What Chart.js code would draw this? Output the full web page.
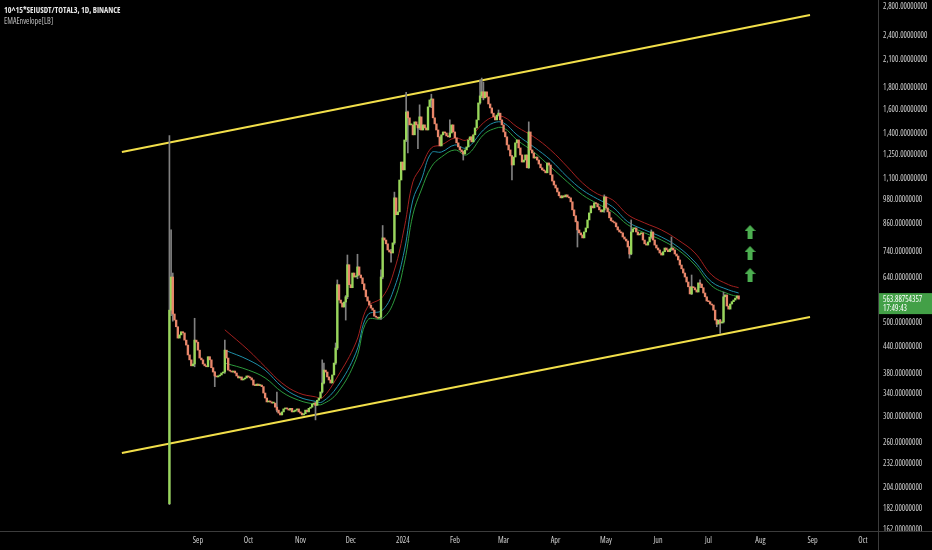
<!DOCTYPE html>
<html lang="en">
<head>
<meta charset="UTF-8">
<title>10^15*SEIUSDT/TOTAL3, 1D</title>
<script src="https://cdn.jsdelivr.net/npm/chart.js@4"></script>
<style>
  html, body { margin: 0; padding: 0; background: #000; }
  #chart { display: block; }
</style>
</head>
<body>
<canvas id="chart" width="932" height="550"></canvas>
<script>
// daily candles, day 0 = 1 Sep 2023, first candle 15 Aug 2023
const firstDay = -17;
const firstOpen = 185;
const closes = [
  531, 636, 520, 503, 485, 456, 464, 472, 469, 451, 439, 416, 405, 392, 396, 451, 446,
  427, 409, 405, 396, 392, 390, 412, 405, 388, 379, 371, 369, 371, 373, 377, 379, 427, 409,
  383, 381, 379, 381, 377, 371, 367, 369, 363, 365, 367, 371,
  369, 367, 363, 353, 352, 355, 352, 353, 350, 338, 329, 322, 323, 322, 320, 320, 313, 308,
  303, 300, 305, 310, 311, 310, 308, 311, 305, 306, 308, 310, 305,
  303, 300, 302, 308, 305, 311, 313, 318, 320, 316, 325, 329, 340, 357, 383, 379, 369, 363,
  357, 373, 398, 432, 610, 561, 552, 540, 555, 571, 680, 610,
  600, 650, 636, 640, 672, 643, 633, 613, 593, 571, 558, 546, 537, 531, 514, 511, 508, 511,
  636, 787, 778, 762, 737, 729, 725, 766, 979, 893, 907, 1079, 1190,
  1140, 1342, 1563, 1514, 1457, 1457, 1380, 1481, 1457, 1433, 1522, 1417, 1457, 1433, 1417,
  1607, 1669, 1678, 1514, 1465, 1417, 1365, 1299, 1380, 1402, 1394, 1372, 1365, 1394, 1457, 1402,
  1357, 1321, 1292, 1271, 1257, 1243, 1271, 1292, 1342, 1365, 1328, 1380, 1433, 1497, 1642,
  1706, 1744, 1688, 1744, 1697, 1633, 1598, 1553, 1522, 1497, 1537, 1553, 1497, 1457,
  1402, 1365, 1306, 1271, 1230, 1171, 1223, 1321, 1342, 1285, 1237, 1190, 1203, 1237, 1153,
  1402, 1271, 1250, 1216, 1223, 1203, 1177, 1153, 1140, 1134, 1122, 1184, 1171, 1110, 1073, 1050,
  1033, 1011, 990, 979, 990, 984, 995, 984, 979, 958, 917, 888, 859, 822, 809, 800, 787, 813,
  831, 868, 902, 937, 927, 953, 948, 932, 917, 907, 917, 984,
  927, 907, 878, 864, 859, 854, 836, 822, 813, 809, 791, 782, 774, 749, 721, 813, 827, 831,
  813, 800, 805, 809, 778, 762, 757, 770, 791, 813, 778, 757, 745,
  737, 725, 717, 730, 745, 737, 730, 741, 745, 737, 721, 713, 698, 679, 665, 650, 636, 619,
  603, 580, 603, 600, 593, 586, 616, 612, 600, 583, 571, 558,
  556, 549, 546, 531, 503, 492, 503, 495, 498, 571, 577, 543, 534, 549, 556, 561, 567, 574, 563.88754357
];

// visible wicks
const wickDays  = [-17, -16, -15, -2, 10, 16, 47, 70, 74, 75, 82, 83, 88, 89, 95, 109, 110, 115, 117, 124,
                   125, 131, 132, 139, 150, 158, 168, 169, 170, 179, 187, 197, 226, 242, 257, 258, 270, 282, 294, 299,
                   309, 311, 313];
const wickLows  = [184, 515, 500, 390, 350, 376, 305, 292, 338, 355, 395, 428, 503, 565, 630, 505, 630, 690, 760, 1330,
                   1250, 1280, 1420, 1600, 1360, 1203, 1630, 1690, 1670, 1530, 1079, 1150, 749, 905, 705, 718, 785, 735, 578, 600,
                   485, 468, 495];
const wickHighs = [1375, 822, 650, 508, 380, 451, 340, 322, 405, 398, 444, 626, 575, 717, 720, 661, 842, 740, 1010, 1740,
                   1570, 1460, 1625, 1722, 1497, 1262, 1861, 1880, 1840, 1580, 1235, 1481, 862, 995, 752, 868, 822, 791, 643, 626,
                   505, 505, 586];

// EMA envelope
const emaDays  = [16, 30, 40, 50, 60, 70, 74, 83, 94, 101, 110, 117, 123, 128, 133, 139, 145, 153, 160, 170,
                  176, 182, 190, 200, 210, 220, 229, 238, 247, 256, 266, 276, 286, 296, 306, 316, 322];
const emaUpper = [477, 427, 390, 357, 338, 331, 329, 369, 444, 540, 571, 661, 836, 1068, 1159, 1285, 1306, 1357, 1342, 1473,
                  1522, 1522, 1441, 1365, 1271, 1159, 1062, 1000, 968, 893, 854, 822, 778, 725, 643, 610, 600];
const emaMid   = [427, 405, 383, 350, 331, 323, 322, 350, 420, 517, 531, 600, 737, 968, 1079, 1251, 1257, 1306, 1285, 1417,
                  1473, 1473, 1380, 1292, 1203, 1097, 1022, 973, 932, 859, 822, 791, 749, 690, 619, 593, 583];
const emaLower = [398, 383, 367, 340, 325, 318, 318, 338, 405, 503, 508, 561, 690, 893, 1022, 1159, 1223, 1271, 1237, 1380,
                  1425, 1433, 1342, 1257, 1159, 1068, 995, 948, 907, 845, 809, 778, 737, 679, 606, 580, 571];

// channel
const channelDays  = [-45.3, 364.5];
const channelUpper = [1257, 2652];
const channelLower = [243.8, 511.6];

// arrows
const arrowDays   = [328.8, 328.8, 328.8];
const arrowValues = [813, 725, 643];

const monthDays   = [0, 30, 61, 91, 122, 153, 182, 213, 243, 274, 304, 335, 366, 396];
const monthLabels = ['Sep', 'Oct', 'Nov', 'Dec', '2024', 'Feb', 'Mar', 'Apr', 'May', 'Jun', 'Jul', 'Aug', 'Sep', 'Oct'];
const priceTicks  = [162, 182, 204, 232, 260, 300, 340, 380, 440, 500, 640, 740, 860, 980,
                     1100, 1250, 1400, 1600, 1800, 2100, 2400, 2800];

const lastPrice = '563.88754357';
const countdown = '17:49:43';

const BULL = '#98d65a';
const BEAR = '#e8866a';

// pick the narrowest installed sans face for the axis text
function pickFont() {
  const c = document.createElement('canvas').getContext('2d');
  const cands = [
    { w: 'condensed', f: "'Noto Sans'" },
    { w: 'condensed', f: "'Open Sans'" },
    { w: '', f: "'Liberation Sans Narrow'" },
    { w: '', f: "'DejaVu Sans Condensed'" },
    { w: '', f: "'Liberation Sans'" }
  ];
  let best = cands[cands.length - 1], bw = Infinity;
  for (const k of cands) {
    c.font = (k.w ? k.w + ' ' : '') + '8px ' + k.f + ', monospace';
    const w = c.measureText('2,800.00000000').width;
    if (w < bw - 0.5) { bw = w; best = k; }
  }
  const size = Math.max(7, Math.min(8.5, 8 * 45 / bw));
  return { stretch: best.w, family: best.f + ', sans-serif', size: Math.round(size * 2) / 2 };
}
const AX = pickFont();
const fontStr = (bold, size) => (bold ? 'bold ' : '') + (AX.stretch ? AX.stretch + ' ' : '') + size + 'px ' + AX.family;

const bodies = closes.map((c, i) => ({ x: firstDay + i, y: [i === 0 ? firstOpen : closes[i - 1], c] }));
const wicks = wickDays.map((d, i) => ({ x: d, y: [wickLows[i], wickHighs[i]] }));
const pts = (xs, ys) => xs.map((x, i) => ({ x: x, y: ys[i] }));

// arrow marker
const arrow = document.createElement('canvas');
arrow.width = 11; arrow.height = 14;
(function () {
  const c = arrow.getContext('2d');
  c.fillStyle = '#4caf50';
  c.beginPath();
  c.moveTo(5.5, 0); c.lineTo(11, 6); c.lineTo(8, 6); c.lineTo(8, 14);
  c.lineTo(3, 14); c.lineTo(3, 6); c.lineTo(0, 6); c.closePath();
  c.fill();
})();

const decor = {
  id: 'decor',
  beforeDraw(chart) {
    const c = chart.ctx;
    c.save();
    c.fillStyle = '#000';
    c.fillRect(0, 0, chart.width, chart.height);
    c.restore();
  },
  afterDraw(chart) {
    const c = chart.ctx, a = chart.chartArea;
    c.save();
    c.strokeStyle = '#3c3c3c';
    c.lineWidth = 1;
    c.beginPath();
    c.moveTo(0, a.bottom + 0.5); c.lineTo(chart.width, a.bottom + 0.5);
    c.moveTo(a.right + 0.5, 0); c.lineTo(a.right + 0.5, chart.height);
    c.stroke();

    // last price label
    const y = chart.scales.y.getPixelForValue(closes[closes.length - 1]);
    c.fillStyle = '#43a047';
    c.fillRect(a.right + 1, y - 6, chart.width - a.right - 1, 21);
    c.fillStyle = '#ffffff';
    c.font = fontStr(false, AX.size);
    c.textBaseline = 'middle';
    c.fillText(lastPrice, a.right + 5, y + 1);
    c.fillText(countdown, a.right + 5, y + 10);

    // header
    c.fillStyle = '#e6e6e6';
    c.font = fontStr(true, AX.size);
    c.fillText('10^15*SEIUSDT/TOTAL3, 1D, BINANCE', 4, 11);
    c.fillStyle = '#bdbdbd';
    c.font = fontStr(false, AX.size);
    c.fillText('EMAEnvelope[LB]', 4, 22);
    c.restore();
  }
};

const tickFont = { family: AX.family, size: AX.size, weight: AX.stretch || undefined };

new Chart(document.getElementById('chart'), {
  type: 'bar',
  data: {
    datasets: [
      { type: 'line', data: pts(channelDays, channelUpper), borderColor: '#f2df4a', borderWidth: 2, pointRadius: 0, order: 6 },
      { type: 'line', data: pts(channelDays, channelLower), borderColor: '#f2df4a', borderWidth: 2, pointRadius: 0, order: 6 },
      { type: 'line', data: pts(emaDays, emaUpper), borderColor: '#a3201f', borderWidth: 1, pointRadius: 0, tension: 0.4, order: 5 },
      { type: 'line', data: pts(emaDays, emaMid), borderColor: '#1f8fa8', borderWidth: 1, pointRadius: 0, tension: 0.4, order: 5 },
      { type: 'line', data: pts(emaDays, emaLower), borderColor: '#2c9a3c', borderWidth: 1, pointRadius: 0, tension: 0.4, order: 5 },
      { data: wicks, backgroundColor: '#808080', barThickness: 1, grouped: false, order: 4 },
      {
        data: bodies,
        backgroundColor: ctx => {
          const r = ctx.raw;
          return r && r.y[1] >= r.y[0] ? BULL : BEAR;
        },
        barThickness: 1.7, minBarLength: 1, grouped: false, order: 3
      },
      { type: 'line', data: pts(arrowDays, arrowValues), showLine: false, pointStyle: arrow, pointRadius: 7, order: 1 }
    ]
  },
  options: {
    responsive: false,
    animation: false,
    devicePixelRatio: 1,
    layout: { padding: 0, autoPadding: false },
    plugins: { legend: { display: false }, tooltip: { enabled: false } },
    scales: {
      x: {
        type: 'linear',
        min: -117.9,
        max: 405,
        offset: false,
        grid: { display: false, drawTicks: false },
        border: { display: false },
        afterBuildTicks: s => { s.ticks = monthDays.map(v => ({ value: v })); },
        afterFit: s => { s.height = 19; s.paddingLeft = 0; s.paddingRight = 0; },
        ticks: {
          autoSkip: false, maxRotation: 0, padding: 5,
          color: '#d0d0d0', font: tickFont,
          callback: v => monthLabels[monthDays.indexOf(v)]
        }
      },
      y: {
        type: 'logarithmic',
        position: 'right',
        min: 159.4,
        max: 2877,
        grid: { display: false, drawTicks: false },
        border: { display: false },
        afterBuildTicks: s => { s.ticks = priceTicks.map(v => ({ value: v })); },
        afterFit: s => { s.width = 54; s.paddingTop = 0; s.paddingBottom = 0; },
        ticks: {
          autoSkip: false, padding: 5, labelOffset: 2,
          color: '#d0d0d0', font: tickFont,
          callback: v => Number(v).toLocaleString('en-US', { minimumFractionDigits: 8, maximumFractionDigits: 8 })
        }
      }
    }
  },
  plugins: [decor]
});
</script>
</body>
</html>
